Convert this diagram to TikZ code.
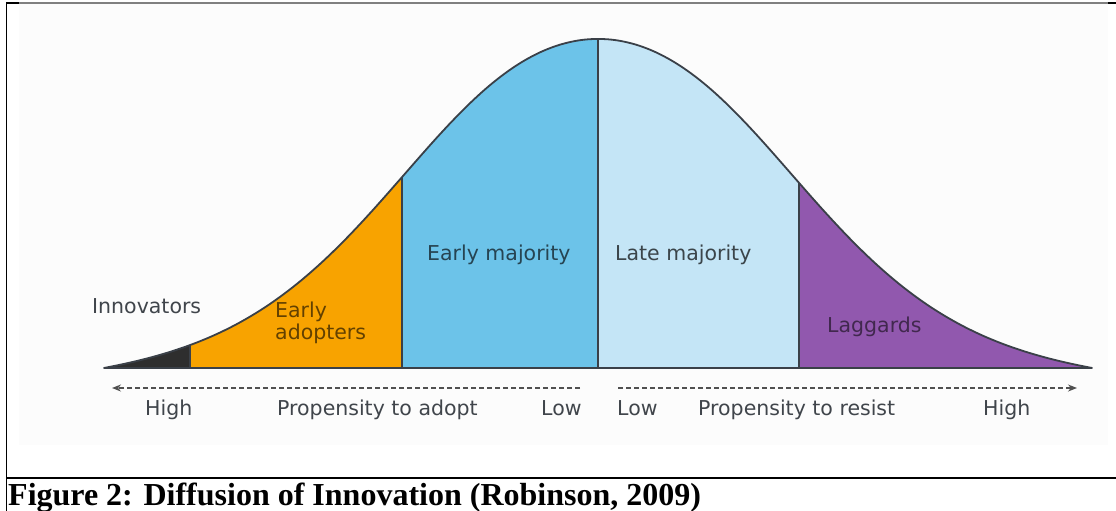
\documentclass[tikz,border=0pt]{standalone}
\usepackage{fontspec}
\setmainfont{Liberation Serif}
\newfontfamily\labelfont{DejaVu Sans}
\usetikzlibrary{arrows.meta}
\definecolor{innov}{HTML}{2E2E2E}
\definecolor{adopt}{HTML}{F8A300}
\definecolor{earlymaj}{HTML}{6CC3E9}
\definecolor{latemaj}{HTML}{C4E5F6}
\definecolor{laggard}{HTML}{9158AE}
\definecolor{outline}{HTML}{3A4048}
\definecolor{labelgrey}{HTML}{40454B}
\definecolor{arrowgrey}{HTML}{505050}
\newcommand\bellcurve{plot[domain=104:1092, samples=150, smooth] (\x,{368-bell(\x)})}

\begin{document}
\begin{tikzpicture}[x=1pt, y=-1pt,
  declare function={uu(\x)=((\x-598)/182)^2;
    bell(\x)=329*(exp(-0.5*uu(\x)*(1-0.2*exp(-uu(\x))))-0.025*((\x-598)/494)^4);},
  lbl/.style={font=\labelfont\fontsize{20.5}{22}\selectfont, text=labelgrey, inner sep=0pt, anchor=base west},
  curve/.style={draw=outline, line width=1.8pt, line join=round},
  propensity/.style={draw=arrowgrey, line width=1.4pt, dash pattern=on 5pt off 3pt, -{Stealth[length=9pt, width=7pt]}}]

\useasboundingbox (0,0) rectangle (1116,511);

% table cell round the figure
\fill[black!1] (19,4) rectangle (1108,445);
\draw[line width=1.5pt] (6.5,2) -- (6.5,511);
\draw[line width=1.5pt] (6,3) -- (19,3) (1108,3) -- (1116,3);
\draw[black!50, line width=1.5pt] (19,3) -- (1108,3);
\draw[line width=1.3pt] (6,478) -- (1116,478);

% the five groups under the curve
\begin{scope}
\clip \bellcurve -- cycle;
\foreach \xa/\xb/\col in {100/190/innov, 190/402/adopt, 402/598/earlymaj, 598/799/latemaj, 799/1096/laggard}{
\fill[\col] (\xa,0) rectangle (\xb,372);
}
\foreach \xd in {190,402,598,799}{
\draw[outline, line width=1.8pt] (\xd,0) -- (\xd,370);
}
\end{scope}
\draw[curve] \bellcurve -- cycle;

\node[lbl](innovators) at (92,313){Innovators};
\node[lbl, anchor=north west, align=left, text=adopt!40!black](adopters) at (275,302){Early\\adopters};
\node[lbl, text=earlymaj!35!black](earlymajority) at (427,260){Early majority};
\node[lbl, text=latemaj!30!black](latemajority) at (615,260){Late majority};
\node[lbl, text=laggard!45!black](laggards) at (827,332){Laggards};

% propensity scales
\coordinate(adoptstart) at (580,388);
\coordinate(adoptend) at (112,388);
\coordinate(resiststart) at (618,388);
\coordinate(resistend) at (1077,388);
\draw[propensity] (adoptstart) -- (adoptend);
\draw[propensity] (resiststart) -- (resistend);

\node[lbl](highadopt) at (145,415){High};
\node[lbl](propadopt) at (277,415){Propensity to adopt};
\node[lbl](lowadopt) at (541,415){Low};
\node[lbl](lowresist) at (617,415){Low};
\node[lbl](propresist) at (698,415){Propensity to resist};
\node[lbl](highresist) at (983,415){High};

\node[anchor=base west, inner sep=0pt, font=\bfseries\fontsize{32}{36}\selectfont](caption) at (8,505){Figure 2: Diffusion of Innovation (Robinson, 2009)};
\end{tikzpicture}
\end{document}
